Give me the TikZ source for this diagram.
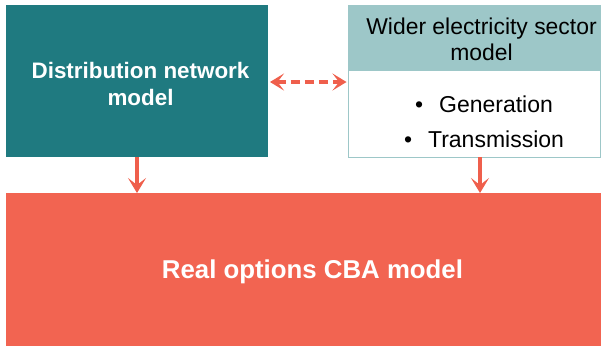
\documentclass[tikz,border=0pt]{standalone}
\usepackage{fontspec}
\setmainfont{Liberation Sans}
\usetikzlibrary{arrows.meta}
\definecolor{tealdark}{HTML}{1F7A80}
\definecolor{teallight}{HTML}{9DC7C8}
\definecolor{coral}{HTML}{F26451}
\definecolor{arrowred}{HTML}{EF5F4C}
\tikzset{
  box/.style={rectangle, inner sep=0pt, outer sep=0pt, align=center},
  link/.style={draw=arrowred, line width=3.4pt,
    -{Stealth[length=15pt,width=18pt,inset=7pt]}},
  duallink/.style={draw=arrowred, line width=3.4pt, dash pattern=on 9pt off 5pt,
    {Stealth[length=14pt,width=17pt,inset=6.5pt]}-{Stealth[length=14pt,width=17pt,inset=6.5pt]}},
}
\begin{document}
\begin{tikzpicture}[x=1pt, y=-1pt]
\useasboundingbox (0,0) rectangle (601,346);
% distribution network block
\node[box, fill=tealdark, minimum width=262pt, minimum height=152pt] (dist) at (137,81) {};
\node[text=white, font=\bfseries\fontsize{22.4}{27}\selectfont, align=center]
  (distlabel) at (140.5,84) {Distribution network\\model};
% wider sector block: header and body
\node[box, fill=teallight, minimum width=253pt, minimum height=65pt] (widehead) at (474.5,37.5) {};
\node[font=\fontsize{22.9}{26}\selectfont, align=center]
  (headlabel) at (481.5,39.5) {Wider electricity sector\\model};
\node[box, fill=white, draw=teallight, line width=0.8pt,
  minimum width=252pt, minimum height=87pt]
  (widebody) at (474.5,113.5) {};
\node[font=\fontsize{23}{35}\selectfont, align=center]
  (items) at (484,122) {\textbullet\hspace{16pt}Generation\\\textbullet\hspace{16pt}Transmission};
% real options block
\node[box, fill=coral, minimum width=595pt, minimum height=153pt] (cba) at (303.5,269.5) {};
\node[text=white, font=\bfseries\fontsize{25.8}{30}\selectfont]
  (cbalabel) at (312.5,271.5) {Real options CBA model};
% connectors
\coordinate (dl) at ([xshift=2pt]dist.east |- 0,82);
\coordinate (dr) at ([xshift=-2pt]widebody.west |- 0,82);
\draw[duallink] (dl) -- (dr);
\draw[link] (dist.south -| 137,0) -- (cba.north -| 137,0);
\draw[link] (widebody.south -| 480,0) -- (cba.north -| 480,0);
\end{tikzpicture}
\end{document}
